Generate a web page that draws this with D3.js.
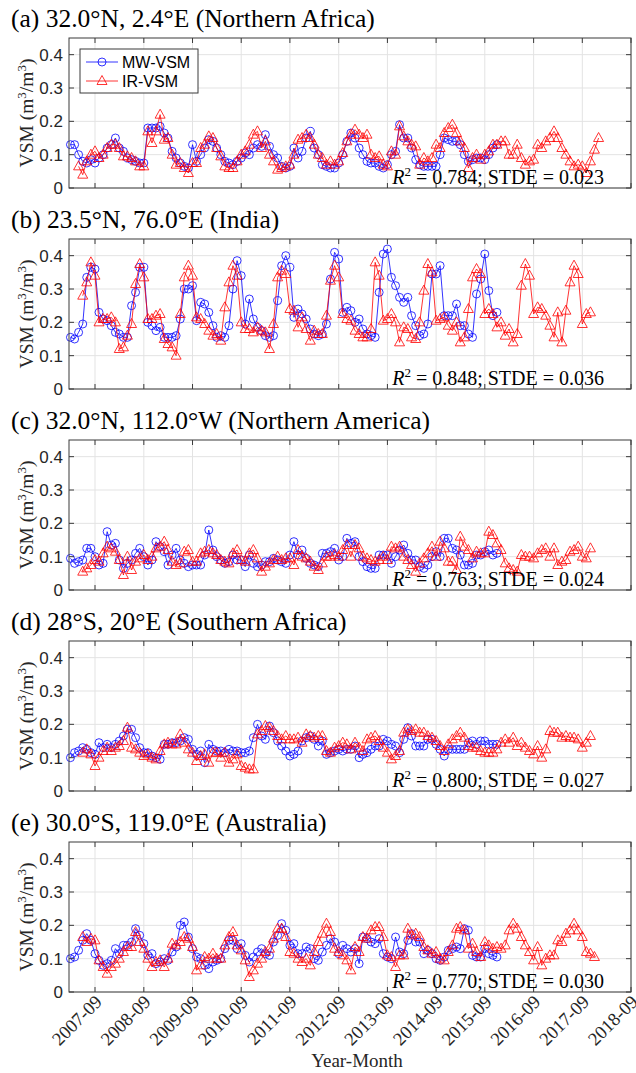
<!DOCTYPE html>
<html>
<head>
<meta charset="utf-8">
<script src="https://cdn.jsdelivr.net/npm/d3@7"></script>
<style>
body { margin: 0; background: #fff; }
</style>
</head>
<body>
<script>
// panel texts
var panelTitles = [
  "(a) 32.0°N, 2.4°E (Northern Africa)",
  "(b) 23.5°N, 76.0°E (India)",
  "(c) 32.0°N, 112.0°W (Northern America)",
  "(d) 28°S, 20°E (Southern Africa)",
  "(e) 30.0°S, 119.0°E (Australia)"
];
var statR2 = ["0.784", "0.848", "0.763", "0.800", "0.770"];
var statSTDE = ["0.023", "0.036", "0.024", "0.027", "0.030"];

var xTickLabels = ["2007-09", "2008-09", "2009-09", "2010-09", "2011-09", "2012-09",
                   "2013-09", "2014-09", "2015-09", "2016-09", "2017-09", "2018-09"];
var yTicks = [0, 0.1, 0.2, 0.3, 0.4];

// first month of each series (one per panel)
var mwStart = ["2007-03", "2007-03", "2007-03", "2007-03", "2007-03"];
var irStart = ["2007-05", "2007-06", "2007-06", "2007-06", "2007-06"];

// monthly MW-VSM values
var mwA = [0.13,0.13,0.10,0.08,0.075,0.085,0.075,0.09,0.10,0.12,
  0.13,0.15,0.12,0.11,0.09,0.085,0.08,0.075,0.075,0.18,0.18,0.18,
  0.185,0.165,0.15,0.11,0.09,0.075,0.065,0.06,0.13,0.08,0.10,0.12,
  0.145,0.14,0.12,0.10,0.08,0.075,0.07,0.08,0.09,0.105,0.10,0.12,
  0.13,0.125,0.16,0.125,0.10,0.09,0.065,0.06,0.065,0.12,0.09,0.11,
  0.15,0.17,0.12,0.10,0.07,0.065,0.06,0.06,0.075,0.10,0.14,0.165,
  0.15,0.12,0.10,0.08,0.075,0.075,0.065,0.06,0.07,0.10,0.11,0.19,
  0.15,0.15,0.12,0.085,0.07,0.065,0.065,0.065,0.065,0.10,0.15,0.145,
  0.14,0.14,0.13,0.10,0.08,0.085,0.09,0.09,0.085,0.10,0.12,0.13];
var mwB = [0.155,0.15,0.17,0.195,0.335,0.365,0.36,0.23,0.21,0.205,
  0.19,0.17,0.165,0.155,0.155,0.25,0.29,0.365,0.365,0.20,0.19,0.175,
  0.185,0.155,0.155,0.155,0.16,0.21,0.30,0.30,0.31,0.205,0.26,0.255,
  0.23,0.19,0.155,0.16,0.155,0.19,0.30,0.385,0.34,0.195,0.27,0.21,
  0.185,0.175,0.16,0.155,0.16,0.265,0.37,0.40,0.365,0.215,0.24,0.225,
  0.21,0.18,0.165,0.16,0.165,0.195,0.33,0.41,0.39,0.23,0.245,0.235,
  0.20,0.21,0.18,0.165,0.16,0.155,0.29,0.405,0.42,0.335,0.31,0.275,
  0.26,0.275,0.22,0.19,0.16,0.165,0.195,0.345,0.345,0.37,0.22,0.22,
  0.22,0.255,0.19,0.19,0.165,0.155,0.285,0.33,0.405,0.295,0.22,0.23];
var mwC = [0.095,0.08,0.085,0.09,0.125,0.125,0.10,0.075,0.08,0.175,
  0.135,0.14,0.09,0.065,0.08,0.09,0.11,0.125,0.10,0.075,0.09,0.145,
  0.13,0.115,0.075,0.105,0.125,0.09,0.08,0.07,0.075,0.075,0.075,0.105,
  0.18,0.12,0.10,0.09,0.08,0.085,0.105,0.09,0.09,0.07,0.105,0.08,
  0.07,0.075,0.085,0.085,0.095,0.09,0.085,0.08,0.105,0.145,0.105,0.12,
  0.095,0.08,0.075,0.07,0.11,0.11,0.115,0.125,0.09,0.10,0.155,0.14,
  0.145,0.10,0.085,0.07,0.065,0.065,0.105,0.105,0.105,0.08,0.10,0.12,
  0.135,0.11,0.09,0.09,0.07,0.065,0.075,0.10,0.115,0.10,0.155,0.155,
  0.125,0.12,0.105,0.075,0.075,0.08,0.105,0.105,0.115,0.12,0.105,0.11];
var mwD = [0.10,0.115,0.12,0.13,0.125,0.115,0.11,0.145,0.13,0.14,
  0.13,0.14,0.15,0.165,0.185,0.185,0.16,0.13,0.115,0.115,0.105,0.10,
  0.095,0.14,0.14,0.145,0.145,0.15,0.16,0.155,0.125,0.11,0.12,0.085,
  0.14,0.125,0.12,0.12,0.115,0.125,0.12,0.12,0.115,0.115,0.12,0.16,
  0.20,0.165,0.155,0.195,0.175,0.15,0.135,0.12,0.105,0.11,0.12,0.15,
  0.16,0.165,0.155,0.135,0.15,0.11,0.115,0.12,0.125,0.12,0.125,0.125,
  0.135,0.10,0.11,0.115,0.125,0.135,0.135,0.155,0.15,0.14,0.135,0.115,
  0.155,0.19,0.165,0.135,0.135,0.135,0.155,0.155,0.14,0.125,0.105,0.125,
  0.125,0.125,0.125,0.125,0.145,0.15,0.14,0.15,0.15,0.14,0.14,0.14];
var mwE = [0.10,0.105,0.125,0.155,0.175,0.155,0.115,0.095,0.08,0.085,
  0.095,0.13,0.115,0.14,0.14,0.15,0.19,0.17,0.145,0.11,0.115,0.085,
  0.09,0.10,0.095,0.12,0.135,0.20,0.21,0.165,0.13,0.105,0.10,0.08,
  0.07,0.09,0.095,0.10,0.13,0.155,0.155,0.13,0.145,0.11,0.09,0.105,
  0.12,0.13,0.115,0.11,0.15,0.17,0.205,0.185,0.14,0.145,0.115,0.115,
  0.135,0.13,0.10,0.095,0.12,0.14,0.16,0.15,0.115,0.14,0.13,0.12,
  0.13,0.085,0.165,0.16,0.15,0.145,0.16,0.115,0.105,0.10,0.165,0.12,
  0.115,0.155,0.175,0.15,0.15,0.115,0.125,0.115,0.10,0.095,0.105,0.125,
  0.13,0.135,0.13,0.19,0.185,0.11,0.105,0.105,0.13,0.115,0.11,0.105];

// monthly IR-VSM values
var irA = [0.065,0.04,0.08,0.10,0.11,0.09,0.10,0.12,
  0.13,0.13,0.12,0.095,0.095,0.09,0.08,0.065,0.065,0.17,0.135,0.17,
  0.22,0.145,0.15,0.10,0.07,0.075,0.06,0.045,0.075,0.075,0.12,0.13,
  0.155,0.15,0.12,0.095,0.065,0.06,0.06,0.08,0.10,0.11,0.13,0.16,
  0.17,0.12,0.14,0.10,0.08,0.055,0.06,0.065,0.07,0.10,0.145,0.15,
  0.16,0.15,0.13,0.10,0.09,0.07,0.08,0.07,0.08,0.105,0.14,0.16,
  0.175,0.16,0.15,0.16,0.10,0.09,0.095,0.07,0.065,0.11,0.10,0.185,
  0.155,0.14,0.13,0.125,0.07,0.09,0.08,0.09,0.13,0.12,0.165,0.18,
  0.19,0.165,0.14,0.12,0.06,0.09,0.10,0.085,0.10,0.11,0.13,0.13,
  0.14,0.14,0.10,0.10,0.13,0.09,0.07,0.08,0.085,0.13,0.12,0.14,
  0.15,0.17,0.15,0.12,0.10,0.08,0.065,0.07,0.065,0.045,0.08,0.115,0.15];
var irB = [0.28,0.32,0.38,0.34,0.20,0.21,0.21,
  0.215,0.20,0.12,0.125,0.16,0.195,0.315,0.375,0.335,0.21,0.21,0.22,
  0.225,0.15,0.135,0.125,0.10,0.225,0.335,0.37,0.34,0.215,0.21,0.195,
  0.175,0.16,0.165,0.145,0.245,0.32,0.37,0.34,0.20,0.18,0.18,0.17,
  0.185,0.175,0.17,0.12,0.195,0.335,0.355,0.345,0.24,0.235,0.185,0.215,
  0.18,0.145,0.175,0.165,0.165,0.22,0.325,0.37,0.335,0.225,0.21,0.205,
  0.175,0.165,0.155,0.155,0.18,0.38,0.34,0.205,0.21,0.225,0.20,0.14,
  0.185,0.18,0.155,0.15,0.20,0.295,0.375,0.35,0.205,0.21,0.215,0.19,
  0.175,0.20,0.14,0.155,0.24,0.335,0.36,0.345,0.225,0.24,0.225,0.185,
  0.20,0.16,0.18,0.14,0.165,0.31,0.375,0.34,0.225,0.245,0.24,0.22,
  0.19,0.155,0.23,0.14,0.235,0.32,0.37,0.345,0.195,0.225,0.23];
var irC = [0.055,0.065,0.075,0.09,0.085,0.11,0.13,
  0.125,0.115,0.09,0.045,0.10,0.06,0.085,0.095,0.105,0.09,0.10,0.125,
  0.13,0.145,0.12,0.085,0.075,0.08,0.115,0.12,0.085,0.085,0.11,0.115,
  0.12,0.11,0.105,0.09,0.085,0.08,0.11,0.12,0.09,0.085,0.11,0.12,
  0.095,0.055,0.07,0.08,0.09,0.10,0.09,0.095,0.095,0.075,0.12,0.10,
  0.095,0.085,0.07,0.06,0.08,0.10,0.10,0.105,0.10,0.12,0.135,0.10,
  0.135,0.125,0.10,0.095,0.09,0.085,0.09,0.10,0.09,0.13,0.125,0.13,
  0.10,0.09,0.075,0.055,0.08,0.095,0.11,0.13,0.10,0.145,0.125,0.085,
  0.085,0.06,0.16,0.13,0.12,0.095,0.115,0.11,0.11,0.175,0.165,0.14,
  0.12,0.08,0.065,0.06,0.055,0.105,0.10,0.10,0.095,0.11,0.12,0.125,
  0.10,0.125,0.075,0.085,0.09,0.115,0.12,0.13,0.10,0.095,0.125];
var irD = [0.115,0.125,0.11,0.075,0.10,0.12,0.13,
  0.12,0.13,0.135,0.15,0.19,0.13,0.125,0.115,0.105,0.11,0.10,0.095,
  0.12,0.14,0.145,0.14,0.14,0.17,0.145,0.125,0.115,0.09,0.105,0.11,
  0.085,0.115,0.115,0.10,0.115,0.085,0.095,0.11,0.075,0.07,0.065,0.065,
  0.17,0.18,0.195,0.19,0.18,0.165,0.155,0.165,0.155,0.155,0.16,0.145,
  0.17,0.165,0.16,0.165,0.165,0.12,0.115,0.13,0.135,0.145,0.14,0.125,
  0.145,0.13,0.12,0.155,0.16,0.165,0.15,0.13,0.115,0.095,0.105,0.12,
  0.175,0.185,0.18,0.185,0.175,0.175,0.165,0.16,0.15,0.135,0.12,0.14,
  0.155,0.165,0.175,0.16,0.135,0.13,0.13,0.12,0.115,0.115,0.115,0.125,
  0.145,0.155,0.145,0.16,0.135,0.145,0.13,0.12,0.11,0.135,0.10,0.125,
  0.18,0.175,0.175,0.16,0.165,0.16,0.16,0.155,0.13,0.145,0.165];
var irE = [0.165,0.15,0.16,0.155,0.095,0.075,0.055,
  0.075,0.085,0.10,0.12,0.135,0.135,0.18,0.15,0.13,0.10,0.075,0.09,
  0.095,0.075,0.10,0.145,0.14,0.15,0.165,0.16,0.135,0.065,0.08,0.105,
  0.10,0.115,0.10,0.10,0.14,0.165,0.18,0.14,0.125,0.095,0.045,0.065,
  0.085,0.10,0.12,0.13,0.16,0.19,0.19,0.165,0.12,0.115,0.10,0.09,
  0.10,0.08,0.12,0.15,0.175,0.205,0.18,0.13,0.12,0.11,0.095,0.065,
  0.135,0.12,0.165,0.16,0.185,0.195,0.195,0.165,0.11,0.105,0.075,0.11,
  0.11,0.19,0.17,0.175,0.165,0.135,0.125,0.115,0.12,0.10,0.095,0.12,
  0.14,0.19,0.195,0.185,0.13,0.145,0.12,0.105,0.15,0.14,0.13,0.135,
  0.13,0.14,0.185,0.205,0.19,0.165,0.14,0.12,0.095,0.135,0.08,0.10,
  0.11,0.11,0.155,0.15,0.175,0.185,0.205,0.185,0.165,0.12,0.115,0.105];

var mwSeries = [mwA, mwB, mwC, mwD, mwE];
var irSeries = [irA, irB, irC, irD, irE];

var W = 636, H = 1073;
var left = 69, right = 631, boxH = 150;
var panelTops = [38, 239, 440, 641, 842];
var blue = "#0000ff", red = "#ff0000";
var serif = "'Liberation Serif', 'Times New Roman', serif";
var sans = "'Liberation Sans', Arial, sans-serif";

var parseMonth = d3.timeParse("%Y-%m");

var x = d3.scaleTime()
    .domain([new Date(2007, 1, 18), new Date(2018, 8, 1)])
    .range([left, right]);
var y = d3.scaleLinear()
    .domain([0, 0.45])
    .range([boxH, 0]);

var tickDates = xTickLabels.map(parseMonth);

var svg = d3.select("body").append("svg")
    .attr("width", W)
    .attr("height", H)
    .style("display", "block");

// turn a start month + values into dated points
function toPoints(start, values) {
  var d0 = parseMonth(start);
  return values.map(function(v, i) {
    return {date: d3.timeMonth.offset(d0, i), v: v};
  });
}

var triPath = "M0,-5.5L5,3.5L-5,3.5Z";

function drawPanel(i) {
  var g = svg.append("g").attr("transform", "translate(0," + panelTops[i] + ")");

  g.append("text")
      .attr("x", 11)
      .attr("y", -11)
      .style("font-family", serif)
      .style("font-size", "25.5px")
      .attr("fill", "#000")
      .text(panelTitles[i]);

  // grid
  g.append("g").selectAll("line.vg")
      .data(tickDates)
    .enter().append("line")
      .attr("x1", function(d) { return x(d); })
      .attr("x2", function(d) { return x(d); })
      .attr("y1", 0).attr("y2", boxH)
      .attr("stroke", "#e3e3e3").attr("stroke-width", 1);
  g.append("g").selectAll("line.hg")
      .data(yTicks)
    .enter().append("line")
      .attr("x1", left).attr("x2", right)
      .attr("y1", function(d) { return y(d); })
      .attr("y2", function(d) { return y(d); })
      .attr("stroke", "#e3e3e3").attr("stroke-width", 1);

  // series lines
  var line = d3.line()
      .x(function(d) { return x(d.date); })
      .y(function(d) { return y(d.v); });

  var mw = toPoints(mwStart[i], mwSeries[i]);
  var ir = toPoints(irStart[i], irSeries[i]);

  g.append("path")
      .datum(mw)
      .attr("d", line)
      .attr("fill", "none")
      .attr("stroke", blue)
      .attr("stroke-width", 0.8);
  g.selectAll("circle.mw")
      .data(mw)
    .enter().append("circle")
      .attr("class", "mw")
      .attr("cx", function(d) { return x(d.date); })
      .attr("cy", function(d) { return y(d.v); })
      .attr("r", 4)
      .attr("fill", "none")
      .attr("stroke", blue)
      .attr("stroke-width", 0.8);

  g.append("path")
      .datum(ir)
      .attr("d", line)
      .attr("fill", "none")
      .attr("stroke", red)
      .attr("stroke-width", 0.8);
  g.selectAll("path.ir")
      .data(ir)
    .enter().append("path")
      .attr("class", "ir")
      .attr("d", triPath)
      .attr("transform", function(d) { return "translate(" + x(d.date) + "," + y(d.v) + ")"; })
      .attr("fill", "none")
      .attr("stroke", red)
      .attr("stroke-width", 0.8);

  // box + inward ticks
  var axisColor = "#3a3a3a";
  g.append("rect")
      .attr("x", left).attr("y", 0)
      .attr("width", right - left).attr("height", boxH)
      .attr("fill", "none").attr("stroke", axisColor).attr("stroke-width", 1);

  var ax = g.append("g").attr("stroke", axisColor).attr("stroke-width", 1);
  tickDates.forEach(function(d) {
    ax.append("line").attr("x1", x(d)).attr("x2", x(d)).attr("y1", boxH).attr("y2", boxH - 5);
    ax.append("line").attr("x1", x(d)).attr("x2", x(d)).attr("y1", 0).attr("y2", 5);
  });
  yTicks.forEach(function(t) {
    ax.append("line").attr("x1", left).attr("x2", left + 5).attr("y1", y(t)).attr("y2", y(t));
    ax.append("line").attr("x1", right).attr("x2", right - 5).attr("y1", y(t)).attr("y2", y(t));
  });

  g.append("g").selectAll("text")
      .data(yTicks)
    .enter().append("text")
      .attr("x", left - 6)
      .attr("y", function(d) { return y(d); })
      .attr("dy", "0.35em")
      .attr("text-anchor", "end")
      .style("font-family", sans)
      .style("font-size", "17px")
      .attr("fill", "#262626")
      .text(function(d) { return d === 0 ? "0" : d3.format(".1f")(d); });

  // y label
  var yl = g.append("text")
      .attr("transform", "translate(33," + (boxH / 2) + ") rotate(-90)")
      .attr("text-anchor", "middle")
      .style("font-family", serif)
      .style("font-size", "19.5px")
      .attr("fill", "#262626");
  yl.append("tspan").text("VSM (m");
  yl.append("tspan").attr("dy", -7).style("font-size", "13px").text("3");
  yl.append("tspan").attr("dy", 7).text("/m");
  yl.append("tspan").attr("dy", -7).style("font-size", "13px").text("3");
  yl.append("tspan").attr("dy", 7).text(")");

  // stats
  var st = g.append("text")
      .attr("x", 604)
      .attr("y", boxH - 4)
      .attr("text-anchor", "end")
      .style("font-family", serif)
      .style("font-size", "20px")
      .attr("fill", "#000");
  st.append("tspan").style("font-style", "italic").text("R");
  st.append("tspan").attr("dy", -8).style("font-size", "13px").text("2");
  st.append("tspan").attr("dy", 8).text(" = " + statR2[i] + "; STDE = " + statSTDE[i]);

  return g;
}

var panels = [];
for (var i = 0; i < panelTitles.length; i++) panels.push(drawPanel(i));

// legend in first panel
var lg = panels[0].append("g").attr("transform", "translate(80,11)");
lg.append("rect")
    .attr("width", 118).attr("height", 44)
    .attr("fill", "#fff").attr("stroke", "#3a3a3a").attr("stroke-width", 1);
var legendItems = [{name: "MW-VSM", color: blue, kind: "c"}, {name: "IR-VSM", color: red, kind: "t"}];
legendItems.forEach(function(it, k) {
  var ly = 13 + k * 19;
  lg.append("line").attr("x1", 6).attr("x2", 38).attr("y1", ly).attr("y2", ly)
      .attr("stroke", it.color).attr("stroke-width", 0.8);
  if (it.kind === "c") {
    lg.append("circle").attr("cx", 22).attr("cy", ly).attr("r", 4)
        .attr("fill", "none").attr("stroke", it.color).attr("stroke-width", 0.8);
  } else {
    lg.append("path").attr("d", triPath).attr("transform", "translate(22," + ly + ")")
        .attr("fill", "none").attr("stroke", it.color).attr("stroke-width", 0.8);
  }
  lg.append("text").attr("x", 42).attr("y", ly).attr("dy", "0.35em")
      .style("font-family", sans).style("font-size", "16px").attr("fill", "#000")
      .text(it.name);
});

// x tick labels under the last panel
var bottom = panelTops[4] + boxH;
svg.append("g").selectAll("text")
    .data(xTickLabels)
  .enter().append("text")
    .attr("transform", function(d) {
      return "translate(" + (x(parseMonth(d)) + 8) + "," + (bottom + 11) + ") rotate(-45)";
    })
    .attr("text-anchor", "end")
    .style("font-family", serif)
    .style("font-size", "18.5px")
    .attr("fill", "#262626")
    .text(function(d) { return d; });

svg.append("text")
    .attr("x", 357)
    .attr("y", 1067)
    .attr("text-anchor", "middle")
    .style("font-family", serif)
    .style("font-size", "19px")
    .attr("fill", "#262626")
    .text("Year-Month");
</script>
</body>
</html>
